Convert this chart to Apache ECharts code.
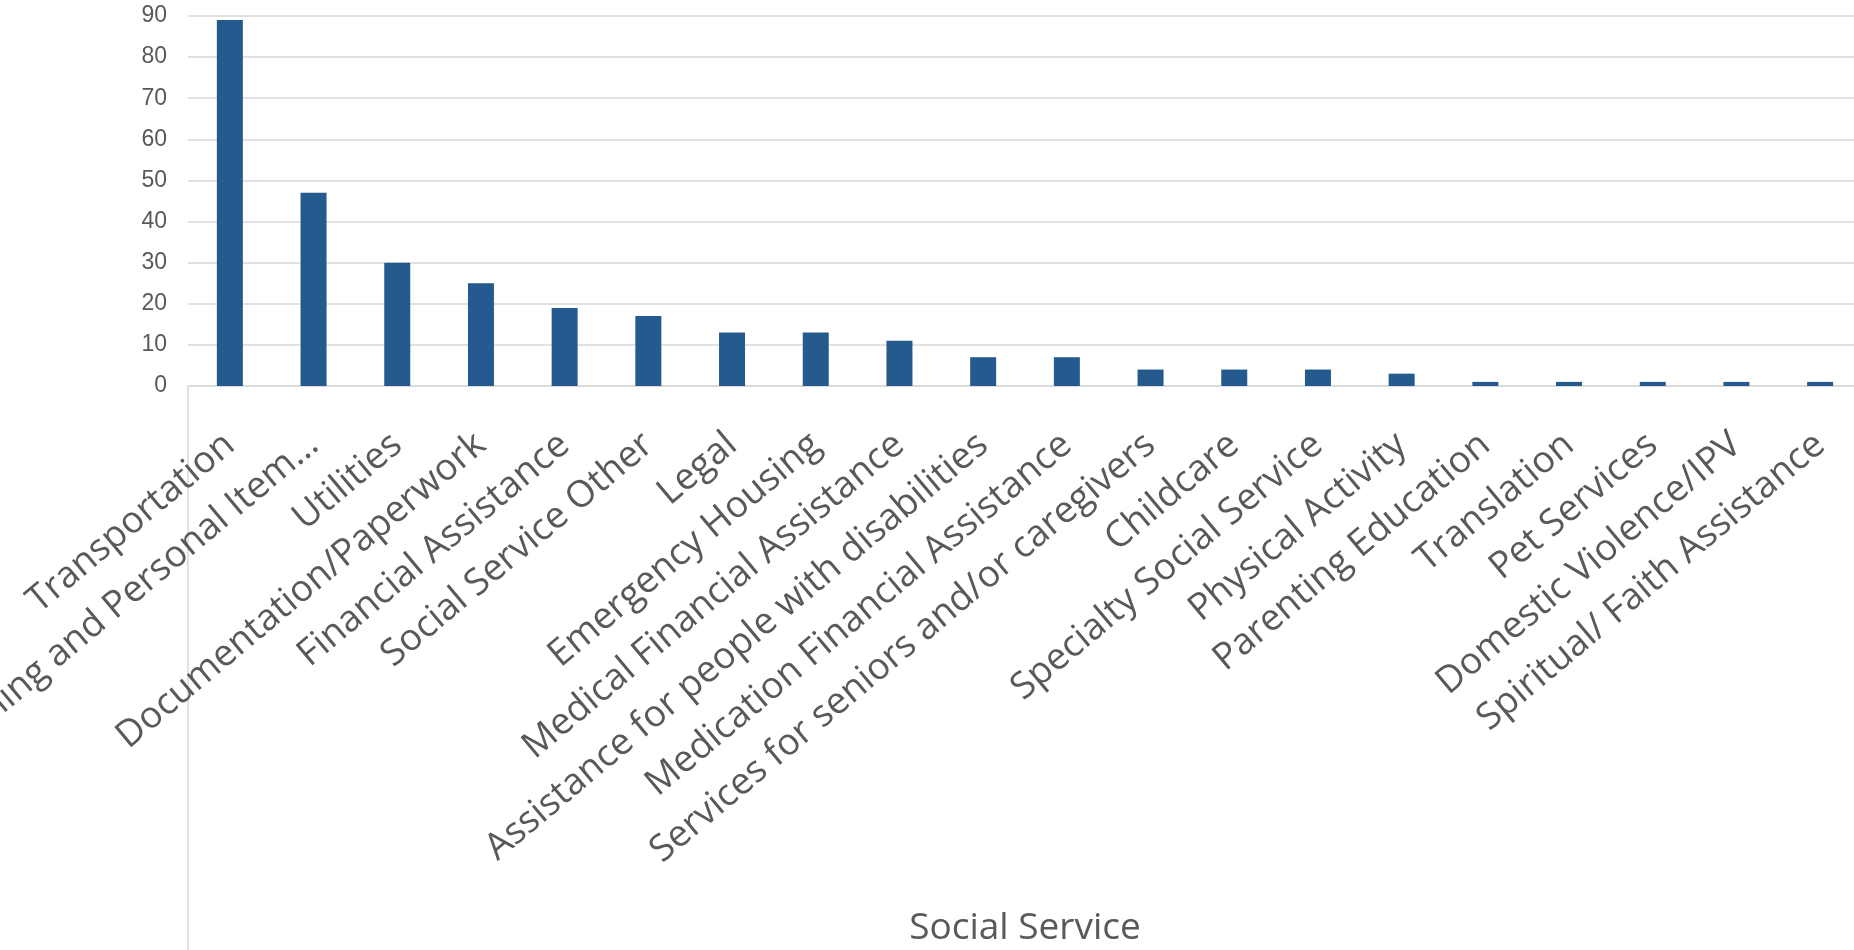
<!DOCTYPE html>
<html>
<head>
<meta charset="utf-8">
<script src="https://cdn.jsdelivr.net/npm/echarts@6/dist/echarts.min.js"></script>
<style>
  html, body { margin: 0; padding: 0; background: #fff; }
  #chart { width: 1854px; height: 950px; }
</style>
</head>
<body>
<div id="chart"></div>
<script>
// categories and counts
const services = [
    'Transportation',
    'Clothing and Personal Item…',
    'Utilities',
    'Documentation/Paperwork',
    'Financial Assistance',
    'Social Service Other',
    'Legal',
    'Emergency Housing',
    'Medical Financial Assistance',
    'Assistance for people with disabilities',
    'Medication Financial Assistance',
    'Services for seniors and/or caregivers',
    'Childcare',
    'Specialty Social Service',
    'Physical Activity',
    'Parenting Education',
    'Translation',
    'Pet Services',
    'Domestic Violence/IPV',
    'Spiritual/ Faith Assistance'
];
const counts = [89, 47, 30, 25, 19, 17, 13, 13, 11, 7, 7, 4, 4, 4, 3, 1, 1, 1, 1, 1];
const yTicks = [0, 10, 20, 30, 40, 50, 60, 70, 80, 90];

var chartDom = document.getElementById('chart');
var myChart = echarts.init(chartDom);
var option;

option = {
    animation: false,
    grid: {
        left: 188,
        top: 16,
        bottom: 564,
        width: 1674,
        containLabel: false,
        outerBoundsMode: 'none'
    },
    xAxis: {
        type: 'category',
        data: services,
        name: 'Social Service',
        nameLocation: 'middle',
        nameGap: 524,
        nameTextStyle: {
            fontFamily: 'Open Sans',
            fontSize: 37,
            color: '#595959'
        },
        axisLine: { lineStyle: { color: '#D9D9D9', width: 1.5 } },
        axisTick: {
            show: true,
            length: 570,
            interval: function (index) { return index === 0; },
            lineStyle: { color: '#D9D9D9', width: 1.5 }
        },
        axisLabel: {
            interval: 0,
            rotate: 40,
            margin: 54,
            fontFamily: 'Open Sans',
            fontSize: 37,
            color: '#595959'
        }
    },
    yAxis: {
        type: 'value',
        min: yTicks[0],
        max: yTicks[yTicks.length - 1],
        interval: 10,
        axisLine: { show: false },
        axisTick: { show: false },
        axisLabel: {
            margin: 21,
            fontFamily: 'Liberation Sans',
            fontSize: 23,
            color: '#595959'
        },
        splitLine: { lineStyle: { color: '#D9D9D9', width: 1.5 } }
    },
    series: [
        {
            name: 'Social Service',
            type: 'bar',
            data: counts,
            barWidth: 26,
            itemStyle: { color: '#245A8D' }
        }
    ]
};
option && myChart.setOption(option);
</script>
</body>
</html>
